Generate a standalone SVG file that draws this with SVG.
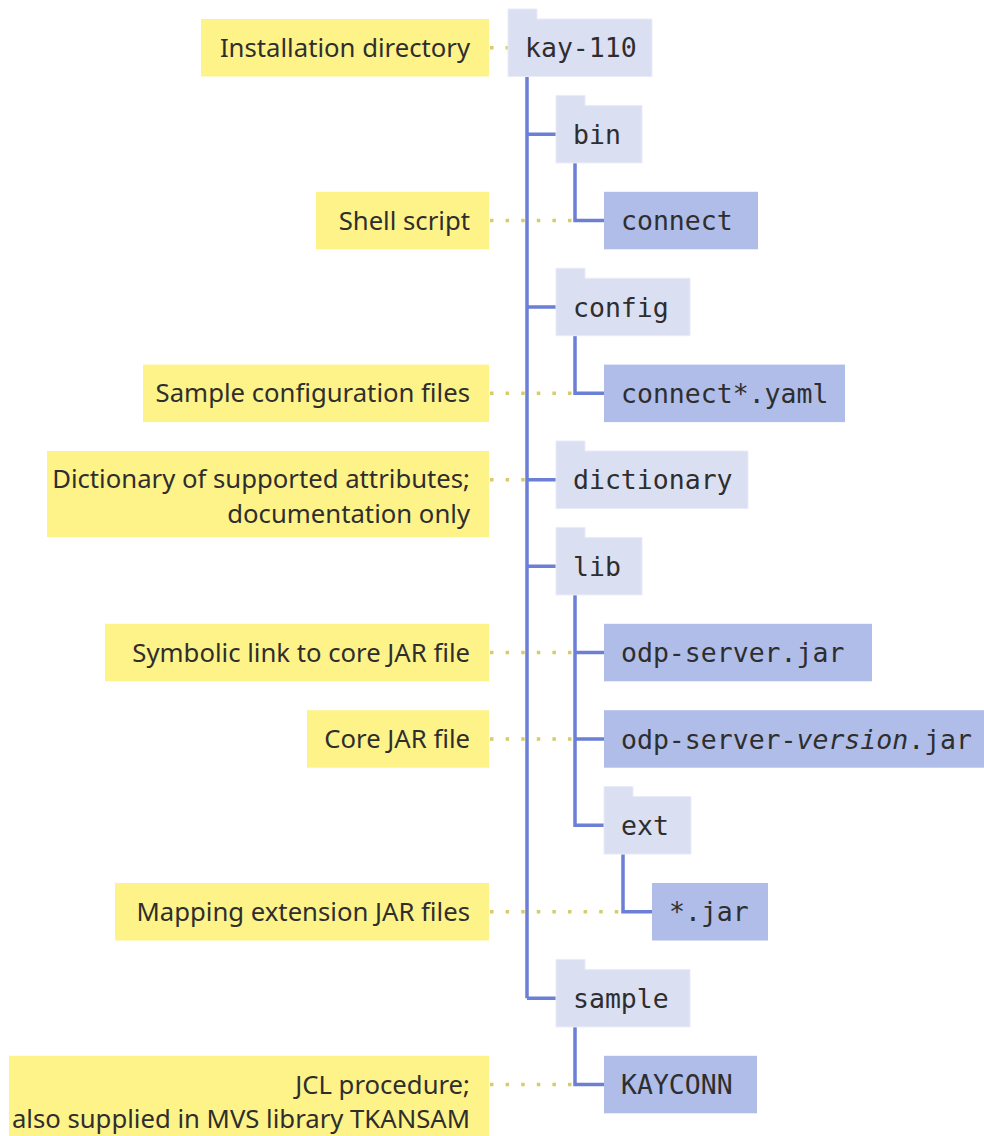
<svg xmlns="http://www.w3.org/2000/svg" width="984" height="1136" viewBox="0 0 984 1136">
  <style>
    .folder { fill: #dbdff2; stroke: #e9ebf8; stroke-width: 1; }
    .file { fill: #b0bde8; }
    .note { fill: #fef389; }
    .mono { font-family: "DejaVu Sans Mono", "Liberation Mono", monospace; font-size: 26.5px; fill: #2e2e2e; }
    .label { font-family: "Noto Sans", "Open Sans", sans-serif; font-size: 25.7px; fill: #2e2e2e; text-anchor: end; }
    .dots { fill: none; stroke: #d6cc6c; stroke-width: 3.5; stroke-dasharray: 3.5 12.1; }
    .tree { fill: none; stroke: #6b7fd6; stroke-width: 3.5; }
  </style>

  <!-- annotation notes -->
  <g id="notes">
    <g id="note-install">
      <rect class="note" x="201" y="19" width="288" height="57.5"/>
      <text class="label" x="470" y="56.5">Installation directory</text>
    </g>
    <g id="note-shell">
      <rect class="note" x="316" y="191.8" width="173" height="57.5"/>
      <text class="label" x="470" y="229.5">Shell script</text>
    </g>
    <g id="note-config">
      <rect class="note" x="143" y="364.6" width="346" height="57.5"/>
      <text class="label" x="470" y="402">Sample configuration files</text>
    </g>
    <g id="note-dictionary">
      <rect class="note" x="47" y="451" width="442" height="86"/>
      <text class="label" x="470" y="488">Dictionary of supported attributes;</text>
      <text class="label" x="470" y="522.5">documentation only</text>
    </g>
    <g id="note-symlink">
      <rect class="note" x="105" y="623.8" width="384" height="57.5"/>
      <text class="label" x="470" y="661.5">Symbolic link to core JAR file</text>
    </g>
    <g id="note-core">
      <rect class="note" x="307" y="710.2" width="182" height="57.5"/>
      <text class="label" x="470" y="748">Core JAR file</text>
    </g>
    <g id="note-ext">
      <rect class="note" x="115" y="883" width="374" height="57.5"/>
      <text class="label" x="470" y="920.5">Mapping extension JAR files</text>
    </g>
    <g id="note-jcl">
      <rect class="note" x="9" y="1055.8" width="480" height="86"/>
      <text class="label" x="470" y="1093.5">JCL procedure;</text>
      <text class="label" x="470" y="1128">also supplied in MVS library TKANSAM</text>
    </g>
  </g>

  <!-- connectors: dotted leaders first, tree lines on top -->
  <g id="connectors">
    <path class="dots" d="M490 47.75H508 M490 220.55H575 M490 393.35H575 M490 479.75H527 M490 652.55H575 M490 738.95H575 M490 911.75H623 M490 1084.55H575"/>
    <path class="tree" d="M527 76.5V998.15 M527 134.15H556 M527 306.95H556 M527 479.75H556 M527 566.15H556 M527 998.15H556
      M575 162.9V220.55H604
      M575 335.7V393.35H604
      M575 594.9V825.35H604 M575 652.55H604 M575 738.95H604
      M623 854.1V911.75H652
      M575 1026.9V1084.55H604"/>
  </g>

  <!-- directory tree -->
  <g id="kay-110">
    <path class="folder" d="M508 9H537V19H652V76.5H508Z"/>
    <text class="mono" x="525" y="57">kay-110</text>
  </g>
  <g id="bin">
    <path class="folder" d="M556 95.4H585V105.4H642V162.9H556Z"/>
    <text class="mono" x="573" y="143.5">bin</text>
  </g>
  <g id="connect">
    <rect class="file" x="604" y="191.8" width="154" height="57.5"/>
    <text class="mono" x="621" y="230">connect</text>
  </g>
  <g id="config">
    <path class="folder" d="M556 268.2H585V278.2H690V335.7H556Z"/>
    <text class="mono" x="573" y="316.5">config</text>
  </g>
  <g id="connect-yaml">
    <rect class="file" x="604" y="364.6" width="241" height="57.5"/>
    <text class="mono" x="621" y="403">connect*.yaml</text>
  </g>
  <g id="dictionary">
    <path class="folder" d="M556 441H585V451H748V508.5H556Z"/>
    <text class="mono" x="573" y="489">dictionary</text>
  </g>
  <g id="lib">
    <path class="folder" d="M556 527.4H585V537.4H642V594.9H556Z"/>
    <text class="mono" x="573" y="575.5">lib</text>
  </g>
  <g id="odp-server-jar">
    <rect class="file" x="604" y="623.8" width="268" height="57.5"/>
    <text class="mono" x="621" y="662">odp-server.jar</text>
  </g>
  <g id="odp-server-version-jar">
    <rect class="file" x="604" y="710.2" width="380" height="57.5"/>
    <text class="mono" x="621" y="748.5">odp-server-<tspan font-style="italic">version</tspan>.jar</text>
  </g>
  <g id="ext">
    <path class="folder" d="M604 786.6H633V796.6H691V854.1H604Z"/>
    <text class="mono" x="621" y="835">ext</text>
  </g>
  <g id="ext-jars">
    <rect class="file" x="652" y="883" width="116" height="57.5"/>
    <text class="mono" x="669" y="921">*.jar</text>
  </g>
  <g id="sample">
    <path class="folder" d="M556 959.4H585V969.4H690V1026.9H556Z"/>
    <text class="mono" x="573" y="1007.5">sample</text>
  </g>
  <g id="kayconn">
    <rect class="file" x="604" y="1055.8" width="153" height="57.5"/>
    <text class="mono" x="621" y="1094">KAYCONN</text>
  </g>
</svg>
